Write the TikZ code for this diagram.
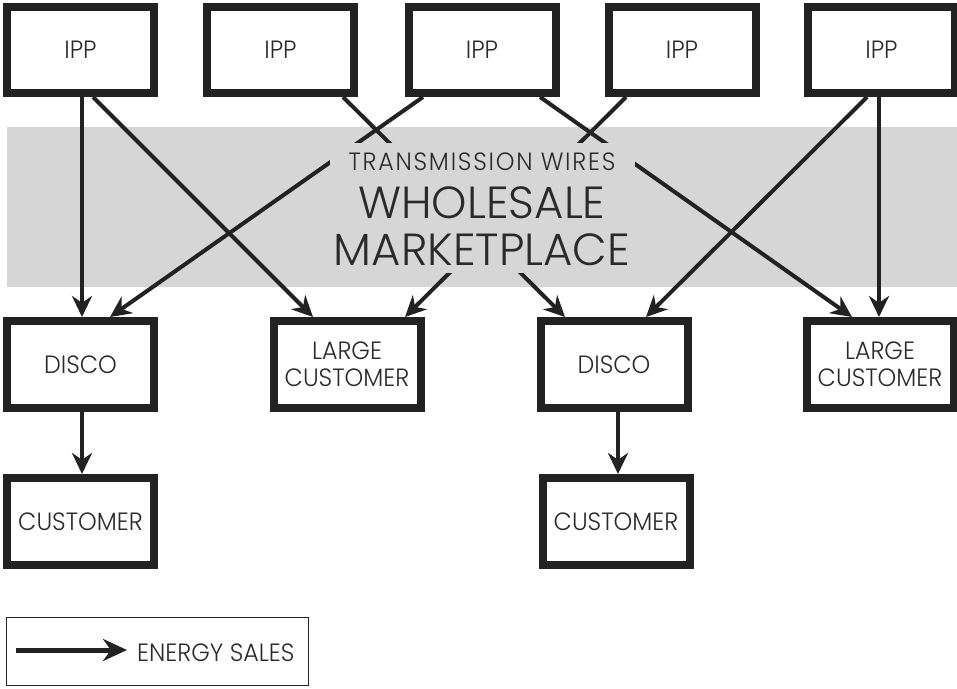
\documentclass[tikz,border=0pt]{standalone}
\usepackage{fontspec}
\setmainfont{Poppins}[UprightFont={* Light}, FakeStretch=0.95]
\newfontfamily\bigfont{Poppins}[UprightFont={* Light}]
\usetikzlibrary{arrows.meta}
\definecolor{ink}{HTML}{222222}
\definecolor{band}{HTML}{D6D6D6}
\definecolor{txt}{HTML}{2A2A2A}
\tikzset{
  box/.style={draw=ink, line width=8pt, fill=white, minimum width=147pt, minimum height=86pt,
    inner sep=0pt, text=txt, font=\fontsize{25}{27}\selectfont, align=center},
  rowbox/.style={box, minimum height=87pt},
  flow/.style={draw=ink, line width=4pt, -{Stealth[length=21pt,width=20pt]}},
  title/.style={anchor=base, inner sep=0pt, text=txt},
}
\begin{document}
\begin{tikzpicture}[x=1pt,y=-1pt]
\useasboundingbox (0,0) rectangle (957,688);
% band
\fill[band] (7,127) rectangle (957,287);
% boxes
\node[box] (ipp1) at (80.5,50) {IPP};
\node[box] (ipp2) at (280.5,50) {IPP};
\node[box] (ipp3) at (482,50) {IPP};
\node[box] (ipp4) at (682,50) {IPP};
\node[box] (ipp5) at (881.5,50) {IPP};
\node[rowbox] (disco1) at (80.5,364.5) {DISCO};
\node[rowbox] (lc1) at (347,364.5) {LARGE\\CUSTOMER};
\node[rowbox] (disco2) at (614,364.5) {DISCO};
\node[rowbox] (lc2) at (880,364.5) {LARGE\\CUSTOMER};
\node[rowbox] (cust1) at (80.5,521.5) {CUSTOMER};
\node[rowbox] (cust2) at (616,521.5) {CUSTOMER};
% connectors
\draw[flow] ([xshift=1.5pt]ipp1.south) -- ([xshift=1.5pt]disco1.north);
\draw[flow] ([xshift=12.5pt]ipp1.south) -- ([xshift=-34pt]lc1.north);
\draw[flow] ([xshift=62.5pt]ipp2.south) -- ([xshift=-49pt]disco2.north);
\draw[flow] ([xshift=-59pt]ipp3.south) -- ([xshift=29.5pt]disco1.north);
\draw[flow] ([xshift=58pt]ipp3.south) -- ([xshift=-28pt]lc2.north);
\draw[flow] ([xshift=-56pt]ipp4.south) -- ([xshift=58pt]lc1.north);
\draw[flow] ([xshift=-14.5pt]ipp5.south) -- ([xshift=32pt]disco2.north);
\draw[flow] ([xshift=-2.5pt]ipp5.south) -- ([xshift=-1pt]lc2.north);
\draw[flow] ([xshift=1.5pt]disco1.south) -- ([xshift=1.5pt]cust1.north);
\draw[flow] ([xshift=4pt]disco2.south) -- ([xshift=2pt]cust2.north);
% text panel over the wires
\fill[band] (330,143) rectangle (635,273);
\node[title, font=\fontsize{25}{25}\selectfont\addfontfeatures{LetterSpace=7}] (tw) at (482,170) {TRANSMISSION WIRES};
\node[title, font=\bigfont\fontsize{45}{45}\selectfont] (ws) at (482,218) {WHOLESALE};
\node[title, font=\bigfont\fontsize{45}{45}\selectfont] (mp) at (482,265) {MARKETPLACE};
% legend
\node[draw=ink, line width=1pt, minimum width=302pt, minimum height=68pt, inner sep=0pt] (legend) at (157.5,651.5) {};
\coordinate (ls) at (16,650);
\coordinate (le) at (127,650);
\draw[flow, line width=5pt, -{Stealth[length=24pt,width=22pt]}] (ls) -- (le);
\node[anchor=base west, inner sep=0pt, text=txt, font=\fontsize{25}{25}\selectfont] (lt) at (137,661) {ENERGY SALES};
\end{tikzpicture}
\end{document}
